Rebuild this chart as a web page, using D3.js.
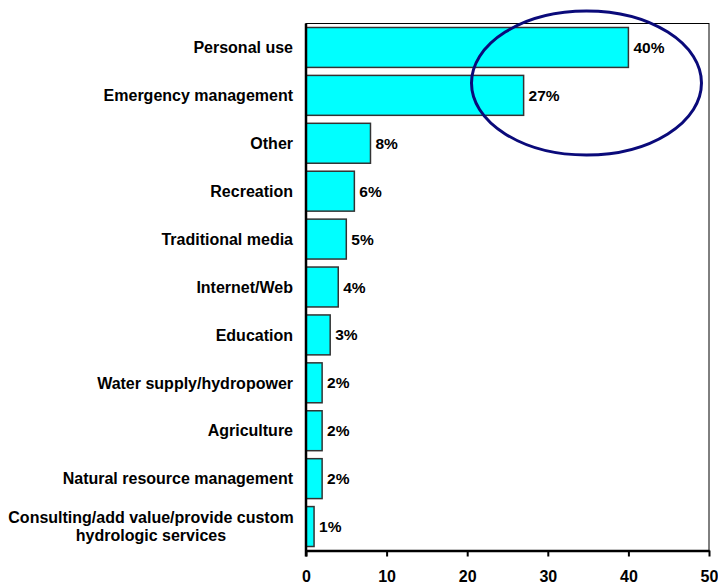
<!DOCTYPE html>
<html><head><meta charset="utf-8">
<script src="https://cdn.jsdelivr.net/npm/d3@7"></script>
<style>body{margin:0;background:#fff}svg{display:block}text{font-family:"Liberation Sans",Arial,sans-serif;font-weight:bold}</style>
</head><body><svg id="c" width="718" height="586"></svg>
<script>
const categories = ["Personal use","Emergency management","Other","Recreation","Traditional media","Internet/Web","Education","Water supply/hydropower","Agriculture","Natural resource management","Consulting/add value/provide custom|hydrologic services"];
const values = [40,27,8,6,5,4,3,2,2,2,1];
const xTicks = [0,10,20,30,40,50];

const svg = d3.select("#c");
const m = {l:306, t:23.5, r:709, b:550.5};
const x = d3.scaleLinear().domain([0,50]).range([m.l,m.r]);
const y = d3.scaleBand().domain(categories).range([m.t,m.b]).paddingInner(8/48).paddingOuter(4/48);

// frame
svg.append("rect").attr("x",m.l).attr("y",m.t).attr("width",m.r-m.l).attr("height",m.b-m.t)
  .attr("fill","none").attr("stroke","#000").attr("stroke-width",1);

svg.selectAll("rect.bar").data(values).enter().append("rect").attr("class","bar")
  .attr("x",x(0)).attr("y",(d,i)=>y(categories[i]))
  .attr("width",d=>x(d)-x(0)).attr("height",y.bandwidth())
  .attr("fill","#00ffff").attr("stroke","#333").attr("stroke-width",1.5);

svg.selectAll("text.val").data(values).enter().append("text").attr("class","val")
  .attr("x",d=>x(d)+5).attr("y",(d,i)=>y(categories[i])+y.bandwidth()/2)
  .attr("dy","0.36em").attr("font-size","15.5px").text(d=>d+"%");

// category labels
categories.forEach(c=>{
  const parts=c.split("|");
  const cy=y(c)+y.bandwidth()/2;
  if(parts.length===1){
    svg.append("text").attr("x",293).attr("y",cy).attr("dy","0.36em").attr("text-anchor","end").attr("font-size","16px").text(c);
  } else {
    const t=svg.append("text").attr("text-anchor","middle").attr("font-size","16px");
    t.append("tspan").attr("x",151).attr("y",cy-9).attr("dy","0.36em").text(parts[0]);
    t.append("tspan").attr("x",151).attr("y",cy+9).attr("dy","0.36em").text(parts[1]);
  }
});

// axes
const xa = svg.append("g").attr("transform",`translate(0,${m.b})`)
  .call(d3.axisBottom(x).tickValues(xTicks).tickSize(6).tickSizeOuter(0).tickPadding(14));
xa.select(".domain").attr("stroke","#000").attr("stroke-width",2.5);
xa.selectAll(".tick line").attr("stroke","#000").attr("stroke-width",2);
xa.selectAll(".tick text").attr("font-size","16px").attr("fill","#000").style("font-family","Liberation Sans, Arial, sans-serif").style("font-weight","bold");

svg.append("line").attr("x1",m.l).attr("x2",m.l).attr("y1",m.t).attr("y2",m.b+6).attr("stroke","#000").attr("stroke-width",2.5);

// ellipse highlight
svg.append("ellipse").attr("cx",x(34.8)).attr("cy",83).attr("rx",115).attr("ry",72)
  .attr("fill","none").attr("stroke","#0a0a7a").attr("stroke-width",3);
</script></body></html>
